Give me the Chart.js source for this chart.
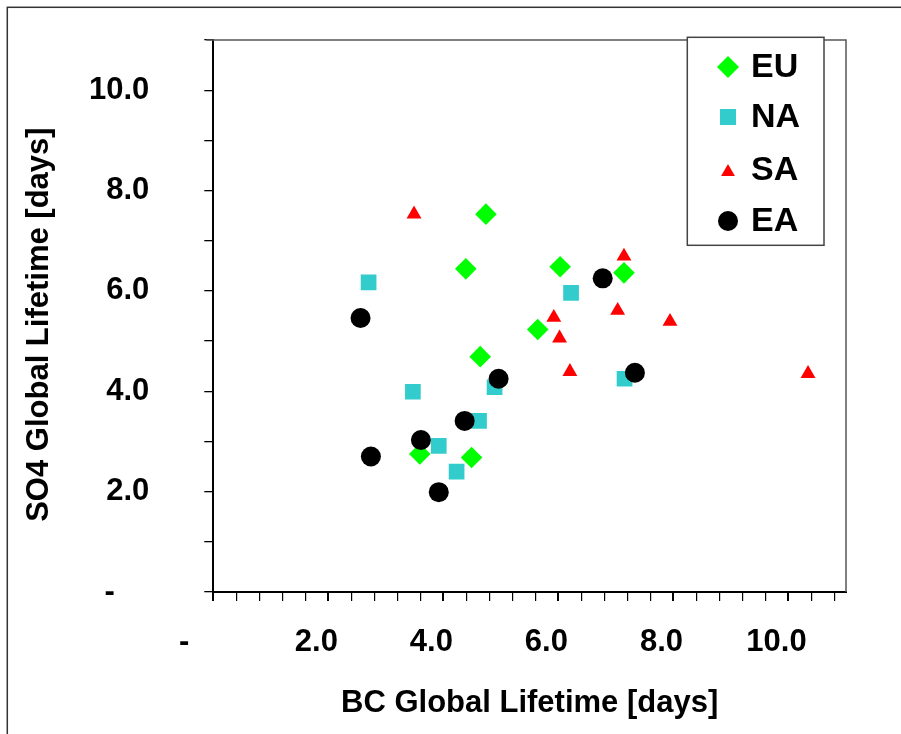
<!DOCTYPE html>
<html>
<head>
<meta charset="utf-8">
<title>SO4 vs BC Global Lifetime</title>
<script src="https://cdn.jsdelivr.net/npm/chart.js@4"></script>
<style>
    body { margin: 0; background: #fff; }
    #wrap { width: 901px; height: 734px; }
</style>
</head>
<body>
<div id="wrap"><canvas id="lifetime-chart" width="901" height="734"></canvas></div>
<script>
// Data: [BC lifetime, SO4 lifetime] in days
const regions = ['EU', 'NA', 'SA', 'EA'];
const euX = [4.74, 4.39, 4.64, 3.59, 4.49, 7.14, 6.03, 5.64];
const euY = [7.53, 6.44, 4.69, 2.75, 2.68, 6.36, 6.48, 5.23];
const naX = [2.70, 4.89, 3.47, 4.62, 3.92, 4.23, 6.22, 7.15];
const naY = [6.17, 4.08, 3.99, 3.41, 2.91, 2.40, 5.96, 4.25];
const saX = [3.49, 7.14, 7.03, 7.94, 5.92, 6.02, 6.20, 10.34];
const saY = [7.53, 6.69, 5.61, 5.39, 5.47, 5.06, 4.39, 4.35];
const eaX = [2.56, 4.96, 4.37, 3.61, 2.74, 3.92, 6.77, 7.33];
const eaY = [5.46, 4.25, 3.41, 3.03, 2.70, 1.99, 6.25, 4.37];
const xTitle = 'BC Global Lifetime [days]';
const yTitle = 'SO4 Global Lifetime [days]';

const FONT = "'Liberation Sans', Arial, sans-serif";

// toPoints zips two value arrays into {x, y} points
function toPoints(xs, ys) {
    return xs.map((x, i) => ({ x: x, y: ys[i] }));
}

// tickLabel formats a tick like the original: '-' for zero, one decimal on even values
function tickLabel(value, zeroLabel) {
    const tenths = Math.round(value * 10);
    if (tenths === 0) return zeroLabel;
    if (tenths % 20 !== 0) return '';
    return (tenths / 10).toFixed(1);
}

// frame draws the outer box, the grey top/right plot border and the boxed legend
const frame = {
    id: 'frame',
    beforeDraw(chart) {
        const ctx = chart.ctx;
        ctx.save();
        ctx.fillStyle = '#fff';
        ctx.fillRect(0, 0, chart.width, chart.height);
        ctx.strokeStyle = '#333';
        ctx.lineWidth = 1.5;
        ctx.strokeRect(7.3, 7.3, chart.width + 20, chart.height + 20);
        ctx.restore();
    },
    afterDraw(chart) {
        const ctx = chart.ctx;
        const a = chart.chartArea;
        ctx.save();
        // top and right border of the plot
        ctx.strokeStyle = '#555';
        ctx.lineWidth = 1.5;
        ctx.beginPath();
        ctx.moveTo(a.left - 7, a.top);
        ctx.lineTo(a.right, a.top);
        ctx.lineTo(a.right, a.bottom);
        ctx.stroke();

        // legend box
        const box = { left: 687.3, top: 37.3, width: 136.7, height: 208 };
        ctx.fillStyle = '#fff';
        ctx.fillRect(box.left, box.top, box.width, box.height);
        ctx.strokeStyle = '#444';
        ctx.strokeRect(box.left, box.top, box.width, box.height);

        const rows = [67, 117, 170, 221];
        chart.data.datasets.forEach((ds, i) => {
            ctx.fillStyle = ds.backgroundColor;
            const dy = ds.pointStyle === 'triangle' ? 2 : 0;
            Chart.helpers.drawPoint(ctx, {
                pointStyle: ds.pointStyle,
                radius: ds.legendRadius,
                rotation: 0,
                borderWidth: 0
            }, 728, rows[i] + dy);
            ctx.fillStyle = '#000';
            ctx.font = 'bold 34px ' + FONT;
            ctx.textAlign = 'left';
            ctx.textBaseline = 'middle';
            ctx.fillText(ds.label, 751, rows[i] + 1);
        });
        ctx.restore();
    }
};

function createLifetimeChart(targetID) {
    const ctx = document.getElementById(targetID).getContext('2d');
    return new Chart(ctx, {
        type: 'scatter',
        data: {
            datasets: [{
                label: regions[0],
                data: toPoints(euX, euY),
                backgroundColor: '#00ff00',
                pointStyle: 'rectRot',
                pointRadius: 10.8,
                legendRadius: 11,
                order: 4
            }, {
                label: regions[1],
                data: toPoints(naX, naY),
                backgroundColor: '#33cccc',
                pointStyle: 'rect',
                pointRadius: 11.1,
                legendRadius: 11.3,
                order: 3
            }, {
                label: regions[2],
                data: toPoints(saX, saY),
                backgroundColor: '#ff0000',
                pointStyle: 'triangle',
                pointRadius: 8.6,
                legendRadius: 8,
                order: 2
            }, {
                label: regions[3],
                data: toPoints(eaX, eaY),
                backgroundColor: '#000000',
                pointStyle: 'circle',
                pointRadius: 10,
                legendRadius: 10,
                order: 1
            }]
        },
        options: {
            responsive: false,
            animation: false,
            layout: { padding: { left: 0, top: 40, right: 55, bottom: 0 } },
            elements: { point: { borderWidth: 0, hoverRadius: 10 } },
            plugins: {
                legend: { display: false },
                tooltip: { enabled: false }
            },
            scales: {
                x: {
                    type: 'linear',
                    position: 'bottom',
                    min: 0,
                    max: 11,
                    afterFit(scale) { scale.height = 142; },
                    border: { display: true, color: '#000', width: 2 },
                    grid: {
                        drawOnChartArea: false,
                        drawTicks: true,
                        tickLength: 9,
                        color: '#000',
                        lineWidth: (c) => (Math.round(c.tick.value * 10) % 20 === 0 ? 2 : 1.2)
                    },
                    ticks: {
                        stepSize: 0.4,
                        autoSkip: false,
                        includeBounds: false,
                        maxRotation: 0,
                        padding: 23,
                        labelOffset: -12,
                        color: '#000',
                        font: { family: FONT, size: 31, weight: 'bold' },
                        callback: (v) => tickLabel(v, '-    ')
                    },
                    title: {
                        display: true,
                        text: xTitle,
                        color: '#000',
                        font: { family: FONT, size: 31, weight: 'bold' },
                        padding: { top: 0, bottom: 12 }
                    }
                },
                y: {
                    type: 'linear',
                    position: 'left',
                    min: 0,
                    max: 11,
                    // fixed width; drop the label padding Chart.js adds above/below the axis
                    afterFit(scale) {
                        scale.width = 213.3;
                        scale.paddingTop = 0;
                        scale.paddingBottom = 0;
                    },
                    border: { display: true, color: '#000', width: 2 },
                    grid: {
                        drawOnChartArea: false,
                        drawTicks: true,
                        tickLength: 9,
                        color: '#000',
                        lineWidth: 1.3
                    },
                    ticks: {
                        stepSize: 1,
                        autoSkip: false,
                        padding: 55,
                        color: '#000',
                        font: { family: FONT, size: 31, weight: 'bold' },
                        callback: (v) => tickLabel(v, '-    ')
                    },
                    title: {
                        display: true,
                        text: yTitle + '  ', // trailing spaces nudge the title down a little
                        color: '#000',
                        font: { family: FONT, size: 31, weight: 'bold' },
                        padding: { top: 21, bottom: 0 }
                    }
                }
            }
        },
        plugins: [frame]
    });
}

createLifetimeChart('lifetime-chart');
</script>
</body>
</html>
